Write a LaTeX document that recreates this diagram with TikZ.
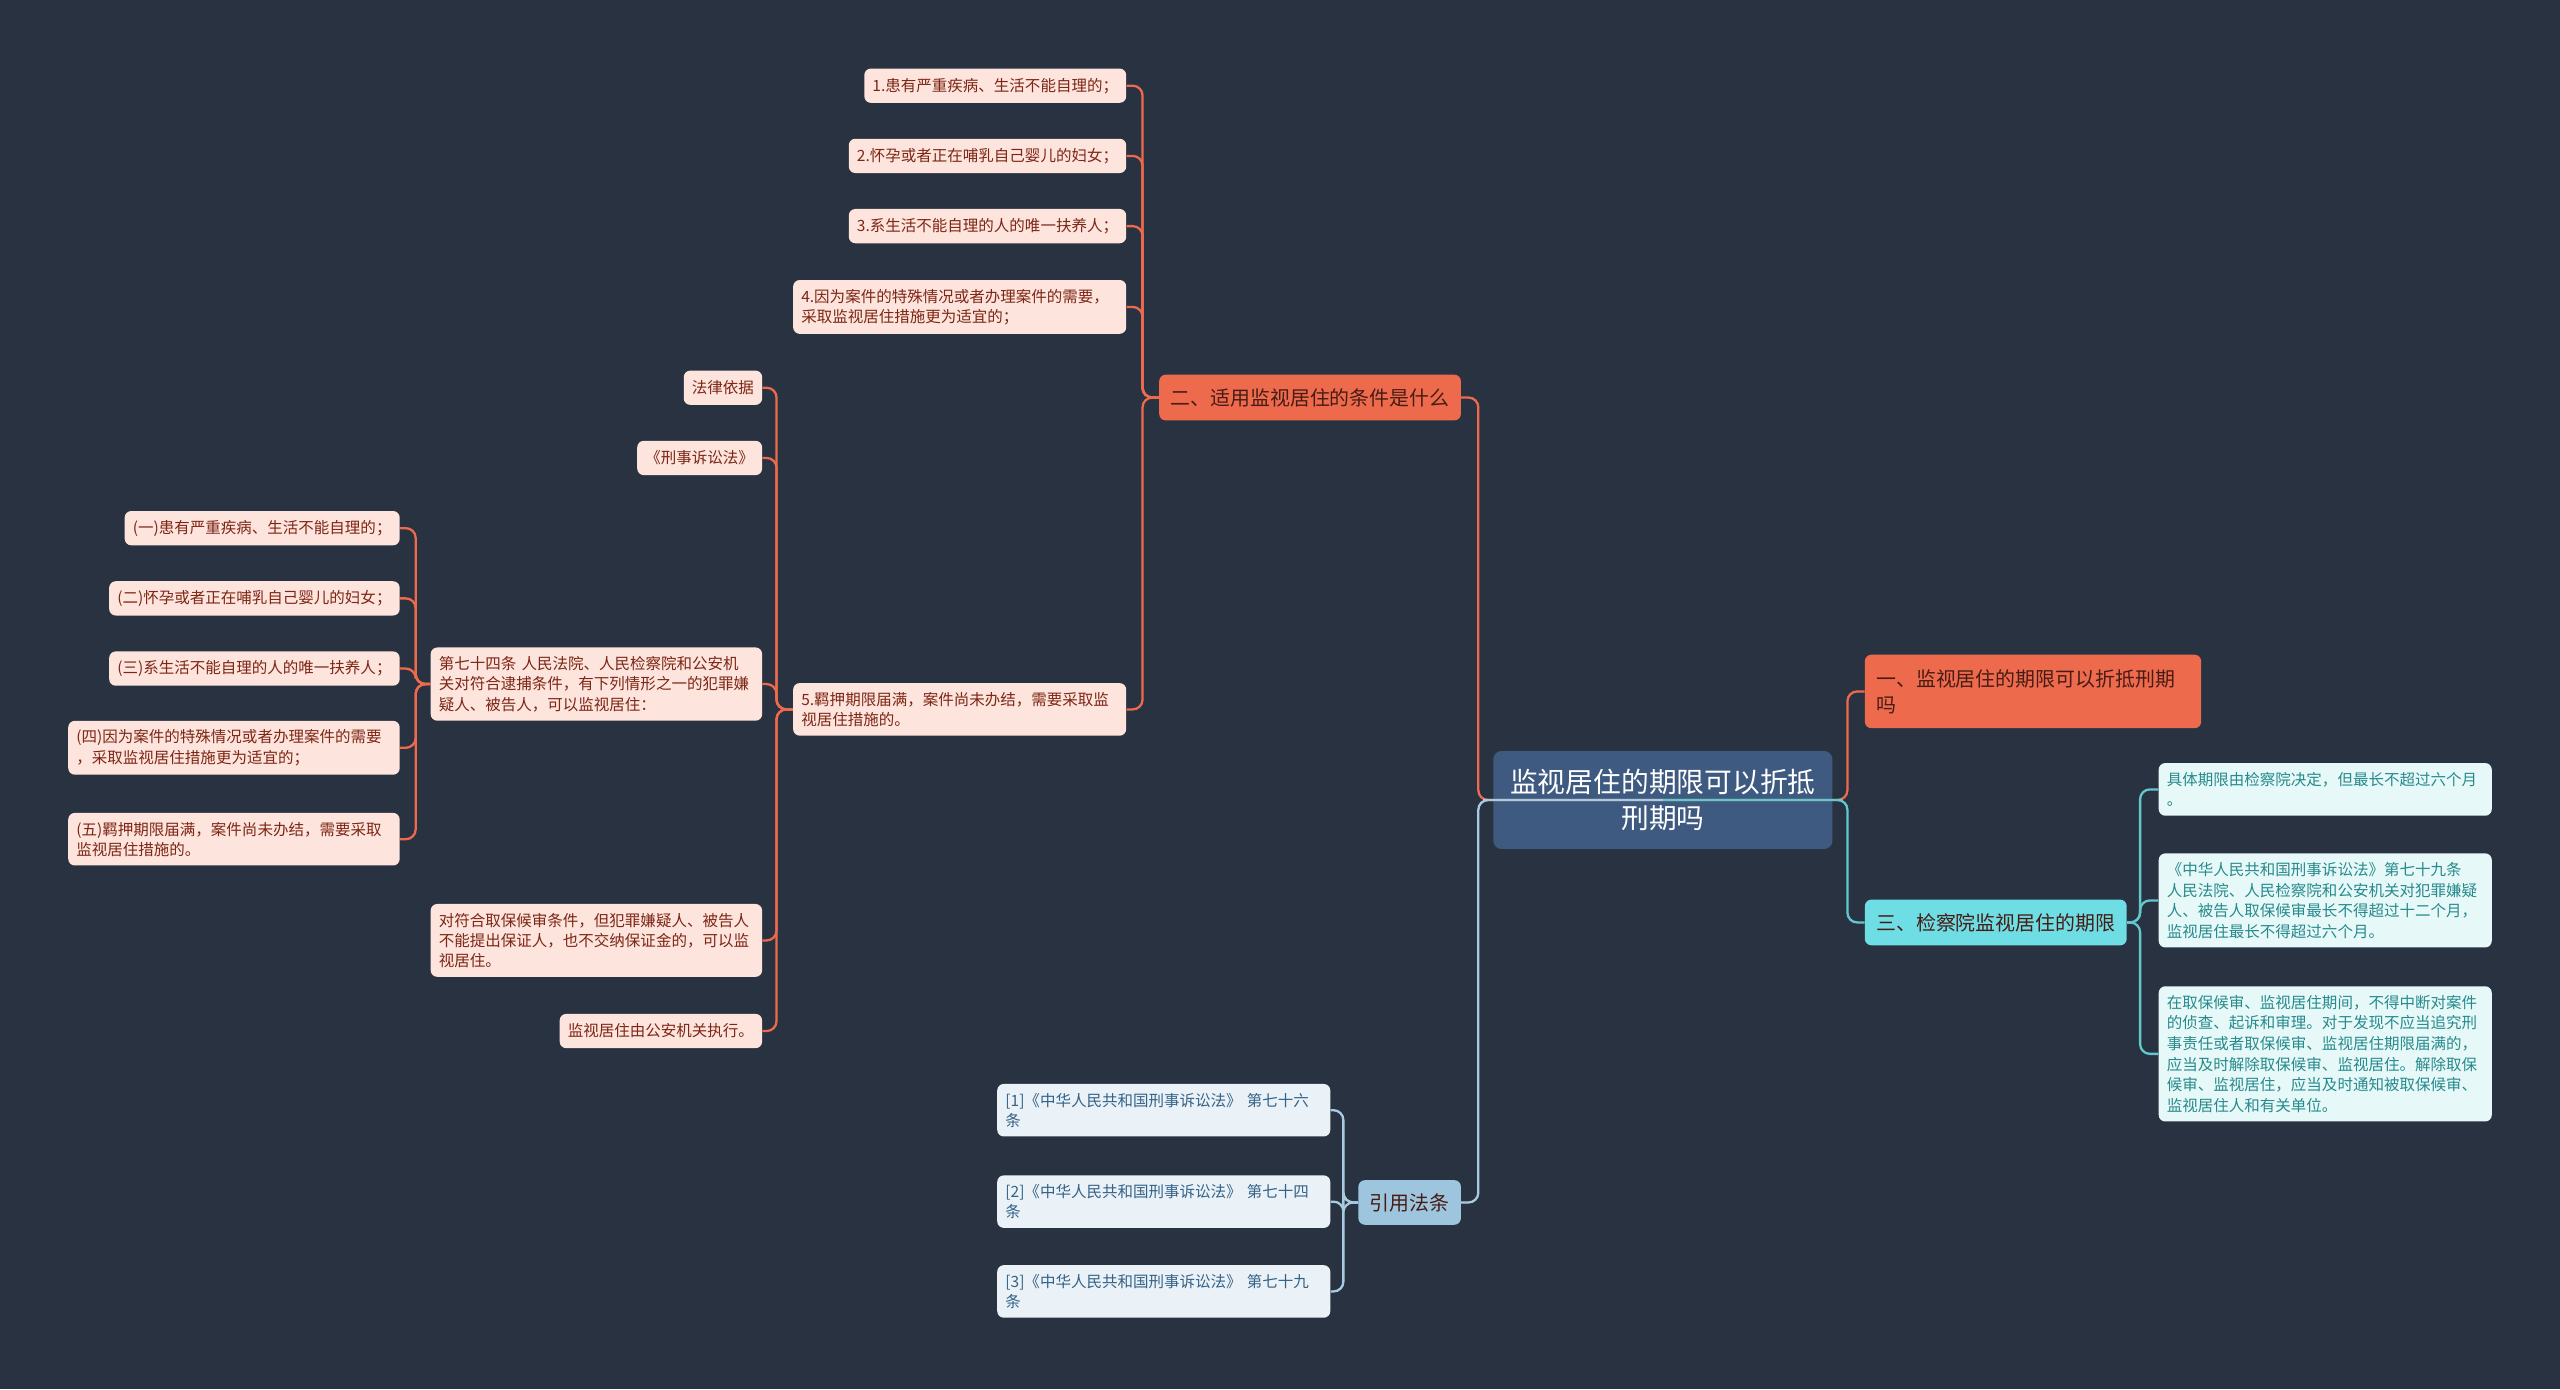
\documentclass[tikz,border=0pt]{standalone}
\usepackage{fontspec}
\setmainfont{Noto Sans CJK SC}
\definecolor{bgnavy}{RGB}{41,50,65}
\definecolor{corange}{RGB}{238,106,77}
\definecolor{cpeach}{RGB}{253,228,220}
\definecolor{cbrown}{RGB}{125,38,22}
\definecolor{cdark}{RGB}{70,28,20}
\definecolor{cdeep}{RGB}{62,90,128}
\definecolor{ccyan}{RGB}{110,222,228}
\definecolor{cmint}{RGB}{231,248,248}
\definecolor{cteal}{RGB}{38,138,140}
\definecolor{csky}{RGB}{158,197,222}
\definecolor{cice}{RGB}{234,242,248}
\definecolor{csteel}{RGB}{52,98,135}
\tikzset{mindmap/.style={x=1pt,y=-1pt}}
\tikzset{box/.style={rounded corners=4pt,inner xsep=5pt,inner ysep=5.5pt,align=left},
         leaf/.style={box,fill=cpeach,text=cbrown,font=\fontsize{9.5}{12.4}\selectfont,minimum height=21pt},
         mint/.style={leaf,fill=cmint,text=cteal,font=\fontsize{9.5}{12.6}\selectfont},
         ice/.style={leaf,fill=cice,text=csteel},
         branch/.style={box,inner xsep=7pt,inner ysep=8pt,text=cdark,font=\fontsize{12.2}{16}\selectfont,minimum height=28pt},
         rootbox/.style={rounded corners=5pt,fill=cdeep,text=white,align=center,text width=201pt,
                         minimum height=60pt,font=\fontsize{17}{22}\selectfont}}
\tikzset{lnorange/.style={corange,line width=1.4pt,rounded corners=6pt},
         lncyan/.style={ccyan!90!black,line width=1.4pt,rounded corners=6pt},
         lnsky/.style={csky!90!white,line width=1.4pt,rounded corners=6pt}}

\begin{document}
\begin{tikzpicture}[mindmap]
    \fill[bgnavy] (0,0) rectangle (1568,851);
    \useasboundingbox (0,0) rectangle (1568,851);
    % centre and main branches
    \node[rootbox] (root) at (1018.5,490) {监视居住的期限可以折抵\\刑期吗};
    \node[branch,fill=corange,anchor=west,text width=192pt,minimum height=45pt] (br1) at (1142,423.5) {一、监视居住的期限可以折抵刑期\\吗};
    \node[branch,fill=ccyan,anchor=west] (br3) at (1142,565) {三、检察院监视居住的期限};
    \node[branch,fill=corange,anchor=east] (br2) at (895,243.5) {二、适用监视居住的条件是什么};
    \node[branch,fill=csky,anchor=east,minimum height=27pt] (cite) at (895,736.5) {引用法条};
    % conditions
    \node[leaf,anchor=east] (cond1) at (690,52.5) {1.患有严重疾病、生活不能自理的；};
    \node[leaf,anchor=east] (cond2) at (690,95.5) {2.怀孕或者正在哺乳自己婴儿的妇女；};
    \node[leaf,anchor=east] (cond3) at (690,138.5) {3.系生活不能自理的人的唯一扶养人；};
    \node[leaf,anchor=east,text width=194pt] (cond4) at (690,188) {4.因为案件的特殊情况或者办理案件的需要，\\采取监视居住措施更为适宜的；};
    \node[leaf,anchor=east,text width=194pt] (cond5) at (690,434.5) {5.羁押期限届满，案件尚未办结，需要采取监\\视居住措施的。};
    % legal basis
    \node[leaf,anchor=east] (law1) at (467,237.5) {法律依据};
    \node[leaf,anchor=east] (law2) at (467,280.5) {《刑事诉讼法》};
    \node[leaf,anchor=east,text width=193pt] (law3) at (467,419) {第七十四条 人民法院、人民检察院和公安机\\关对符合逮捕条件，有下列情形之一的犯罪嫌\\疑人、被告人，可以监视居住：};
    \node[leaf,anchor=east,text width=193pt] (law4) at (467,576) {对符合取保候审条件，但犯罪嫌疑人、被告人\\不能提出保证人，也不交纳保证金的，可以监\\视居住。};
    \node[leaf,anchor=east] (law5) at (467,631.5) {监视居住由公安机关执行。};
    % article 74 items
    \node[leaf,anchor=east] (art1) at (245,323.5) {(一)患有严重疾病、生活不能自理的；};
    \node[leaf,anchor=east] (art2) at (245,366.5) {(二)怀孕或者正在哺乳自己婴儿的妇女；};
    \node[leaf,anchor=east] (art3) at (245,409.5) {(三)系生活不能自理的人的唯一扶养人；};
    \node[leaf,anchor=east,text width=193pt] (art4) at (245,458) {(四)因为案件的特殊情况或者办理案件的需要\\，采取监视居住措施更为适宜的；};
    \node[leaf,anchor=east,text width=193pt] (art5) at (245,514) {(五)羁押期限届满，案件尚未办结，需要采取\\监视居住措施的。};
    % term
    \node[mint,anchor=west,text width=194pt] (term1) at (1322,483.5) {具体期限由检察院决定，但最长不超过六个月\\。};
    \node[mint,anchor=west,text width=194pt] (term2) at (1322,551.5) {《中华人民共和国刑事诉讼法》第七十九条\\人民法院、人民检察院和公安机关对犯罪嫌疑\\人、被告人取保候审最长不得超过十二个月，\\监视居住最长不得超过六个月。};
    \node[mint,anchor=west,text width=194pt] (term3) at (1322,645.5) {在取保候审、监视居住期间，不得中断对案件\\的侦查、起诉和审理。对于发现不应当追究刑\\事责任或者取保候审、监视居住期限届满的，\\应当及时解除取保候审、监视居住。解除取保\\候审、监视居住，应当及时通知被取保候审、\\监视居住人和有关单位。};
    % references
    \node[ice,anchor=east,text width=194pt] (ref1) at (815,680) {[1]《中华人民共和国刑事诉讼法》 第七十六\\条};
    \node[ice,anchor=east,text width=194pt] (ref2) at (815,736) {[2]《中华人民共和国刑事诉讼法》 第七十四\\条};
    \node[ice,anchor=east,text width=194pt] (ref3) at (815,791) {[3]《中华人民共和国刑事诉讼法》 第七十九\\条};
    % connectors
    \foreach \k in {cond1,cond2,cond3,cond4,cond5} \draw[lnorange] (br2.west) -- ++(-10,0) |- (\k.east);
    \foreach \k in {law1,law2,law3,law4,law5} \draw[lnorange] (cond5.west) -- ++(-10,0) |- (\k.east);
    \foreach \k in {art1,art2,art3,art4,art5} \draw[lnorange] (law3.west) -- ++(-9,0) |- (\k.east);
    \foreach \k in {term1,term2,term3} \draw[lncyan] (br3.east) -- ++(8,0) |- (\k.west);
    \foreach \k in {ref1,ref2,ref3} \draw[lnsky] (cite.west) -- ++(-9,0) |- (\k.east);
    \draw[lnorange] (root.center) -- (root.west) -- ++(-9,0) |- (br2.east);
    \draw[lnorange] (root.center) -- (root.east) -- ++(9,0) |- (br1.west);
    \draw[lnsky] (root.center) -- (root.west) -- ++(-9,0) |- (cite.east);
    \draw[lncyan] (root.center) -- (root.east) -- ++(9,0) |- (br3.west);
\end{tikzpicture}
\end{document}
